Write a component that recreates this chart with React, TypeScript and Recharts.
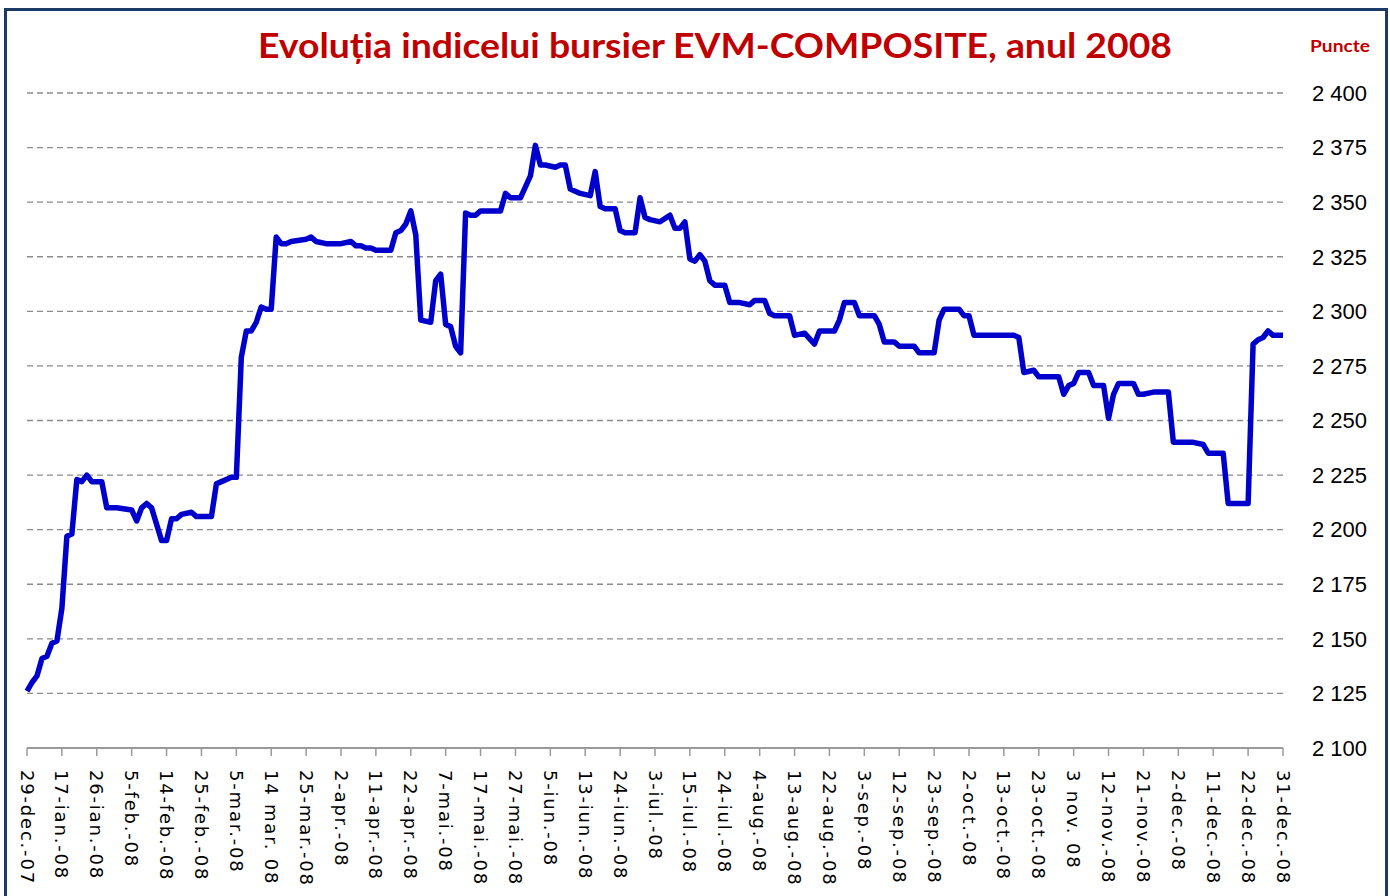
import React from 'react';
import { LineChart, Line, XAxis, YAxis, CartesianGrid } from 'recharts';

// x axis: trading days, one label every 7 sessions
const TICK_LABELS = [
  '29-dec.-07', '17-ian.-08', '26-ian.-08', '5-feb.-08', '14-feb.-08', '25-feb.-08',
  '5-mar.-08', '14 mar. 08', '25-mar.-08', '2-apr.-08', '11-apr.-08', '22-apr.-08',
  '7-mai.-08', '17-mai.-08', '27-mai.-08', '5-iun.-08', '13-iun.-08', '24-iun.-08',
  '3-iul.-08', '15-iul.-08', '24-iul.-08', '4-aug.-08', '13-aug.-08', '22-aug.-08',
  '3-sep.-08', '12-sep.-08', '23-sep.-08', '2-oct.-08', '13-oct.-08', '23-oct.-08',
  '3 nov. 08', '12-nov.-08', '21-nov.-08', '2-dec.-08', '11-dec.-08', '22-dec.-08',
  '31-dec.-08',
];
const DAYS_PER_TICK = 7;
const TICK_DAYS = TICK_LABELS.map((_, i) => i * DAYS_PER_TICK);

const Y_TICKS = [2100, 2125, 2150, 2175, 2200, 2225, 2250, 2275, 2300, 2325, 2350, 2375, 2400];

// session number and index value (puncte)
const SESSION = [
  0, 1, 2, 3, 4, 5, 6, 7, 8, 9, 10, 11, 12, 13, 15, 16, 18, 21, 22, 23, 24, 25, 27, 28, 29, 30,
  31, 33, 34, 37, 38, 39, 40, 41, 42, 43, 44, 45, 46, 47, 48, 49, 50, 51, 52, 53, 56, 57, 58, 60,
  63, 65, 66, 67, 68, 69, 70, 73, 74, 75, 76, 77, 78, 79, 81, 82, 83, 84, 85, 86, 87, 88, 89, 90,
  91, 95, 96, 97, 99, 100, 101, 102, 103, 104, 106, 107, 108, 109, 110, 111, 113, 114, 115, 116,
  118, 119, 120, 122, 123, 124, 125, 127, 129, 130, 131, 132, 133, 134, 135, 136, 137, 138, 140,
  141, 143, 145, 146, 148, 149, 150, 153, 154, 156, 158, 159, 162, 163, 164, 166, 167, 170, 171,
  172, 174, 175, 178, 179, 182, 183, 184, 187, 188, 189, 190, 198, 199, 200, 202, 203, 207, 208,
  209, 210, 211, 213, 214, 216, 217, 218, 219, 222, 223, 224, 226, 229, 230, 234, 236, 237, 240,
  241, 245, 246, 247, 248, 249, 250, 252,
];
const EVM_COMPOSITE = [
  2126, 2130, 2133, 2141, 2142, 2148, 2149, 2164, 2197, 2198, 2223, 2222, 2225, 2222, 2222, 2210,
  2210, 2209, 2204, 2210, 2212, 2210, 2195, 2195, 2205, 2205, 2207, 2208, 2206, 2206, 2221, 2222,
  2223, 2224, 2224, 2279, 2291, 2291, 2295, 2302, 2301, 2301, 2334, 2331, 2331, 2332, 2333, 2334,
  2332, 2331, 2331, 2332, 2330, 2330, 2329, 2329, 2328, 2328, 2336, 2337, 2340, 2346, 2335, 2296,
  2295, 2314, 2317, 2294, 2293, 2284, 2281, 2345, 2344, 2344, 2346, 2346, 2354, 2352, 2352, 2357,
  2362, 2376, 2367, 2367, 2366, 2367, 2367, 2356, 2355, 2354, 2353, 2364, 2348, 2347, 2347, 2337,
  2336, 2336, 2352, 2343, 2342, 2341, 2344, 2338, 2338, 2341, 2324, 2323, 2326, 2323, 2314, 2312,
  2312, 2304, 2304, 2303, 2305, 2305, 2299, 2298, 2298, 2289, 2290, 2285, 2291, 2291, 2296, 2304,
  2304, 2298, 2298, 2294, 2286, 2286, 2284, 2284, 2281, 2281, 2296, 2301, 2301, 2298, 2298, 2289,
  2289, 2288, 2272, 2273, 2270, 2270, 2262, 2266, 2267, 2272, 2272, 2266, 2266, 2251, 2262, 2267,
  2267, 2262, 2262, 2263, 2263, 2240, 2240, 2239, 2235, 2235, 2212, 2212, 2285, 2287, 2288, 2291,
  2289, 2289,
];

const data = SESSION.map((day, i) => ({ day, value: EVM_COMPOSITE[i] }));

const fmtPuncte = (v: number) => `${Math.floor(v / 1000)} ${String(v % 1000).padStart(3, '0')}`;

const DateTick = ({ x, y, payload }: any) => {
  const label = TICK_LABELS[Math.round(payload.value / DAYS_PER_TICK)];
  return (
    <text
      transform={`translate(${x},${y}) rotate(90)`}
      dy="0.36em"
      textAnchor="start"
      fill="#000"
      fontFamily="DejaVu Sans"
      fontSize={18}
      letterSpacing={1.8}
    >
      {label}
    </text>
  );
};

export default function App() {
  return (
    <div style={{ position: 'absolute', left: 0, top: 0, width: 1390, height: 896, overflow: 'hidden', background: '#fff' }}>
      <div
        style={{
          position: 'absolute', left: 4, top: 8, width: 1384, height: 1000,
          border: '3px solid #1B3A66', boxSizing: 'border-box',
        }}
      />
      <div style={{ position: 'absolute', left: 0, top: 0 }}>
        <LineChart width={1390} height={896} data={data} margin={{ top: 93, right: 27, bottom: 8, left: 27 }}>
          <CartesianGrid vertical={false} stroke="#8c8c8c" strokeDasharray="6 4" strokeWidth={1.3} />
          <XAxis
            type="number"
            dataKey="day"
            domain={[0, 252]}
            ticks={TICK_DAYS}
            interval={0}
            height={140}
            tickSize={8}
            tickMargin={14}
            axisLine={{ stroke: '#9a9a9a', strokeWidth: 2 }}
            tickLine={{ stroke: '#9a9a9a', strokeWidth: 1.5 }}
            tick={<DateTick />}
          />
          <YAxis
            orientation="right"
            width={80}
            domain={[2100, 2400]}
            ticks={Y_TICKS}
            interval={0}
            axisLine={false}
            tickLine={false}
            tickSize={6}
            tickMargin={23}
            tickFormatter={fmtPuncte}
            tick={{ fill: '#000', fontFamily: 'Liberation Sans', fontSize: 22 }}
          />
          <Line
            type="linear"
            dataKey="value"
            stroke="#0000CC"
            strokeWidth={5.5}
            strokeLinejoin="round"
            dot={false}
            isAnimationActive={false}
          />
        </LineChart>
      </div>
      <svg width={1390} height={896} style={{ position: 'absolute', left: 0, top: 0, pointerEvents: 'none' }}>
        <text
          x={258}
          y={58}
          fill="#C00000"
          fontFamily="Lato"
          fontWeight={700}
          fontSize={35}
          textLength={914}
          lengthAdjust="spacingAndGlyphs"
        >
          Evoluția indicelui bursier EVM-COMPOSITE, anul 2008
        </text>
        <text
          x={1310}
          y={52}
          fill="#C00000"
          fontFamily="Lato"
          fontWeight={700}
          fontSize={17}
          textLength={60}
          lengthAdjust="spacingAndGlyphs"
        >
          Puncte
        </text>
      </svg>
    </div>
  );
}
